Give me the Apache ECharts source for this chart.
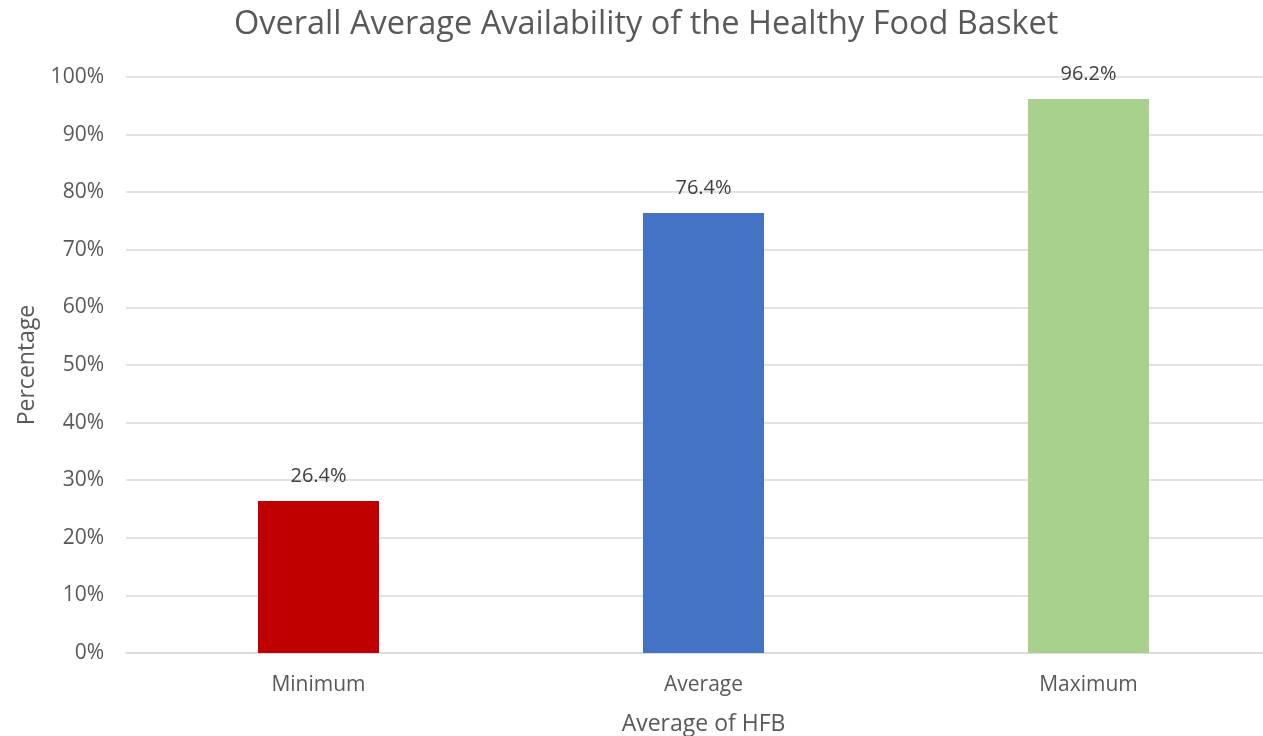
<!DOCTYPE html>
<html><head><meta charset="utf-8">
<script src="https://cdn.jsdelivr.net/npm/echarts@6/dist/echarts.min.js"></script>
<style>html,body{margin:0;padding:0;background:#fff}#c{width:1263px;height:736px}</style>
</head><body><div id="c"></div>
<script>
const categories = ["Minimum", "Average", "Maximum"];
const values = [26.4, 76.4, 96.2];
const barColors = ["#C00000", "#4472C4", "#A9D18E"];
const yTicks = [0, 10, 20, 30, 40, 50, 60, 70, 80, 90, 100];

const FONT = "'Open Sans', 'Noto Sans', sans-serif";
const chart = echarts.init(document.getElementById('c'));
chart.setOption({
  animation: false,
  title: {
    text: "Overall Average Availability of the Healthy Food Basket",
    left: 229, top: 3,
    textStyle: { fontFamily: FONT, fontSize: 32.5, fontWeight: 'normal', color: '#595959' }
  },
  grid: { left: 126, right: -18, top: 77, bottom: 83, outerBoundsMode: 'none' },
  xAxis: {
    type: 'category', data: categories,
    name: 'Average of HFB', nameLocation: 'middle', nameGap: 60,
    nameTextStyle: { fontFamily: FONT, fontSize: 23, color: '#595959' },
    axisLine: { lineStyle: { color: '#D9D9D9', width: 1.5 } },
    axisTick: { show: false },
    axisLabel: { fontFamily: FONT, fontSize: 21, color: '#595959', margin: 22 }
  },
  yAxis: {
    type: 'value', min: 0, max: 100, interval: 10,
    name: 'Percentage', nameLocation: 'middle', nameGap: 87,
    nameTextStyle: { fontFamily: FONT, fontSize: 23, color: '#595959' },
    axisLine: { show: false }, axisTick: { show: false },
    splitLine: { lineStyle: { color: '#D9D9D9', width: 1.5 } },
    axisLabel: { fontFamily: FONT, fontSize: 21, color: '#595959', margin: 22,
      formatter: v => yTicks.includes(v) ? v + '%' : '' }
  },
  series: [{
    type: 'bar', barWidth: 121,
    data: values.map((v, i) => ({ value: v, itemStyle: { color: barColors[i] } })),
    label: { show: true, position: 'top', distance: 15, fontFamily: FONT, fontSize: 20, color: '#404040',
      formatter: p => p.value.toFixed(1) + '%' }
  }]
});
</script></body></html>
